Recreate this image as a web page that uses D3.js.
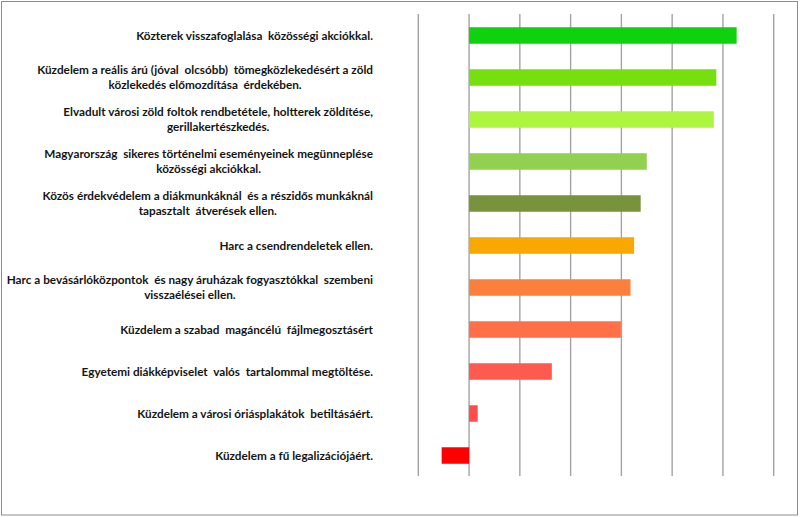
<!DOCTYPE html>
<html><head><meta charset="utf-8">
<script src="https://cdn.jsdelivr.net/npm/d3@7"></script>
<style>
html,body{margin:0;padding:0;background:#fff;}
svg{display:block;}
text{font-family:Lato,"Open Sans",sans-serif;white-space:pre;}
</style></head>
<body>
<svg id="chart" width="800" height="517"></svg>
<script>
const categories = [
  "Közterek visszafoglalása  közösségi akciókkal.",
  "Küzdelem a reális árú (jóval  olcsóbb)  tömegközlekedésért a zöld\nközlekedés előmozdítása  érdekében.",
  "Elvadult városi zöld foltok rendbetétele, holtterek zöldítése,\ngerillakertészkedés.",
  "Magyarország  sikeres történelmi eseményeinek megünneplése\nközösségi akciókkal.",
  "Közös érdekvédelem a diákmunkáknál  és a részidős munkáknál\ntapasztalt  átverések ellen.",
  "Harc a csendrendeletek ellen.",
  "Harc a bevásárlóközpontok  és nagy áruházak fogyasztókkal  szembeni\nvisszaélései ellen.",
  "Küzdelem a szabad  magáncélú  fájlmegosztásért",
  "Egyetemi diákképviselet  valós  tartalommal megtöltése.",
  "Küzdelem a városi óriásplakátok  betiltásáért.",
  "Küzdelem a fű legalizációjáért."
];
const values = [5.27, 4.87, 4.82, 3.50, 3.38, 3.25, 3.18, 2.99, 1.63, 0.17, -0.54];
const colors = ["#0dd20d", "#76e00e", "#aef540", "#92d050", "#77933c", "#f8a800",
                "#fd7f3c", "#ff7048", "#ff5a50", "#ff4d4d", "#ff0000"];
const ticks = [-1, 0, 1, 2, 3, 4, 5, 6];

const svg = d3.select("#chart");

svg.append("rect").attr("x", 1.5).attr("y", 1.5).attr("width", 796).attr("height", 513.5)
  .attr("fill", "#fff").attr("stroke", "#8c8c8c").attr("stroke-width", 1);

const x = d3.scaleLinear().domain([-1, 6]).range([418.3, 773.7]);
const y = d3.scaleBand().domain(categories).range([14, 477]).paddingInner(0.607).paddingOuter(0.315);

// gridlines
svg.append("g").selectAll("line").data(ticks).join("line")
  .attr("x1", d => x(d)).attr("x2", d => x(d))
  .attr("y1", 14).attr("y2", 476)
  .attr("stroke", "#a3a3a3").attr("stroke-width", 1.4);

// bars
svg.append("g").selectAll("rect").data(categories).join("rect")
  .attr("x", (d, i) => x(Math.min(0, values[i])))
  .attr("width", (d, i) => Math.abs(x(values[i]) - x(0)))
  .attr("y", d => y(d))
  .attr("height", y.bandwidth())
  .attr("fill", (d, i) => colors[i]);

// labels
const labelRight = 373;
const lineH = 15;
const lg = svg.append("g");
categories.forEach((c, i) => {
  const lines = c.split("\n");
  const cy = y(c) + y.bandwidth() / 2;
  const t = lg.append("text")
    .attr("font-size", "11.75px").attr("font-weight", "bold").attr("fill", "#151515")
    .attr("text-anchor", "middle");
  const tspans = lines.map((ln, k) => t.append("tspan")
    .attr("y", cy + (k - (lines.length - 1) / 2) * lineH)
    .attr("dy", "0.35em").text(ln));
  let maxW = 0;
  tspans.forEach(s => { maxW = Math.max(maxW, s.node().getComputedTextLength()); });
  const cx = labelRight - maxW / 2;
  tspans.forEach(s => s.attr("x", cx));
});
</script>
</body></html>
